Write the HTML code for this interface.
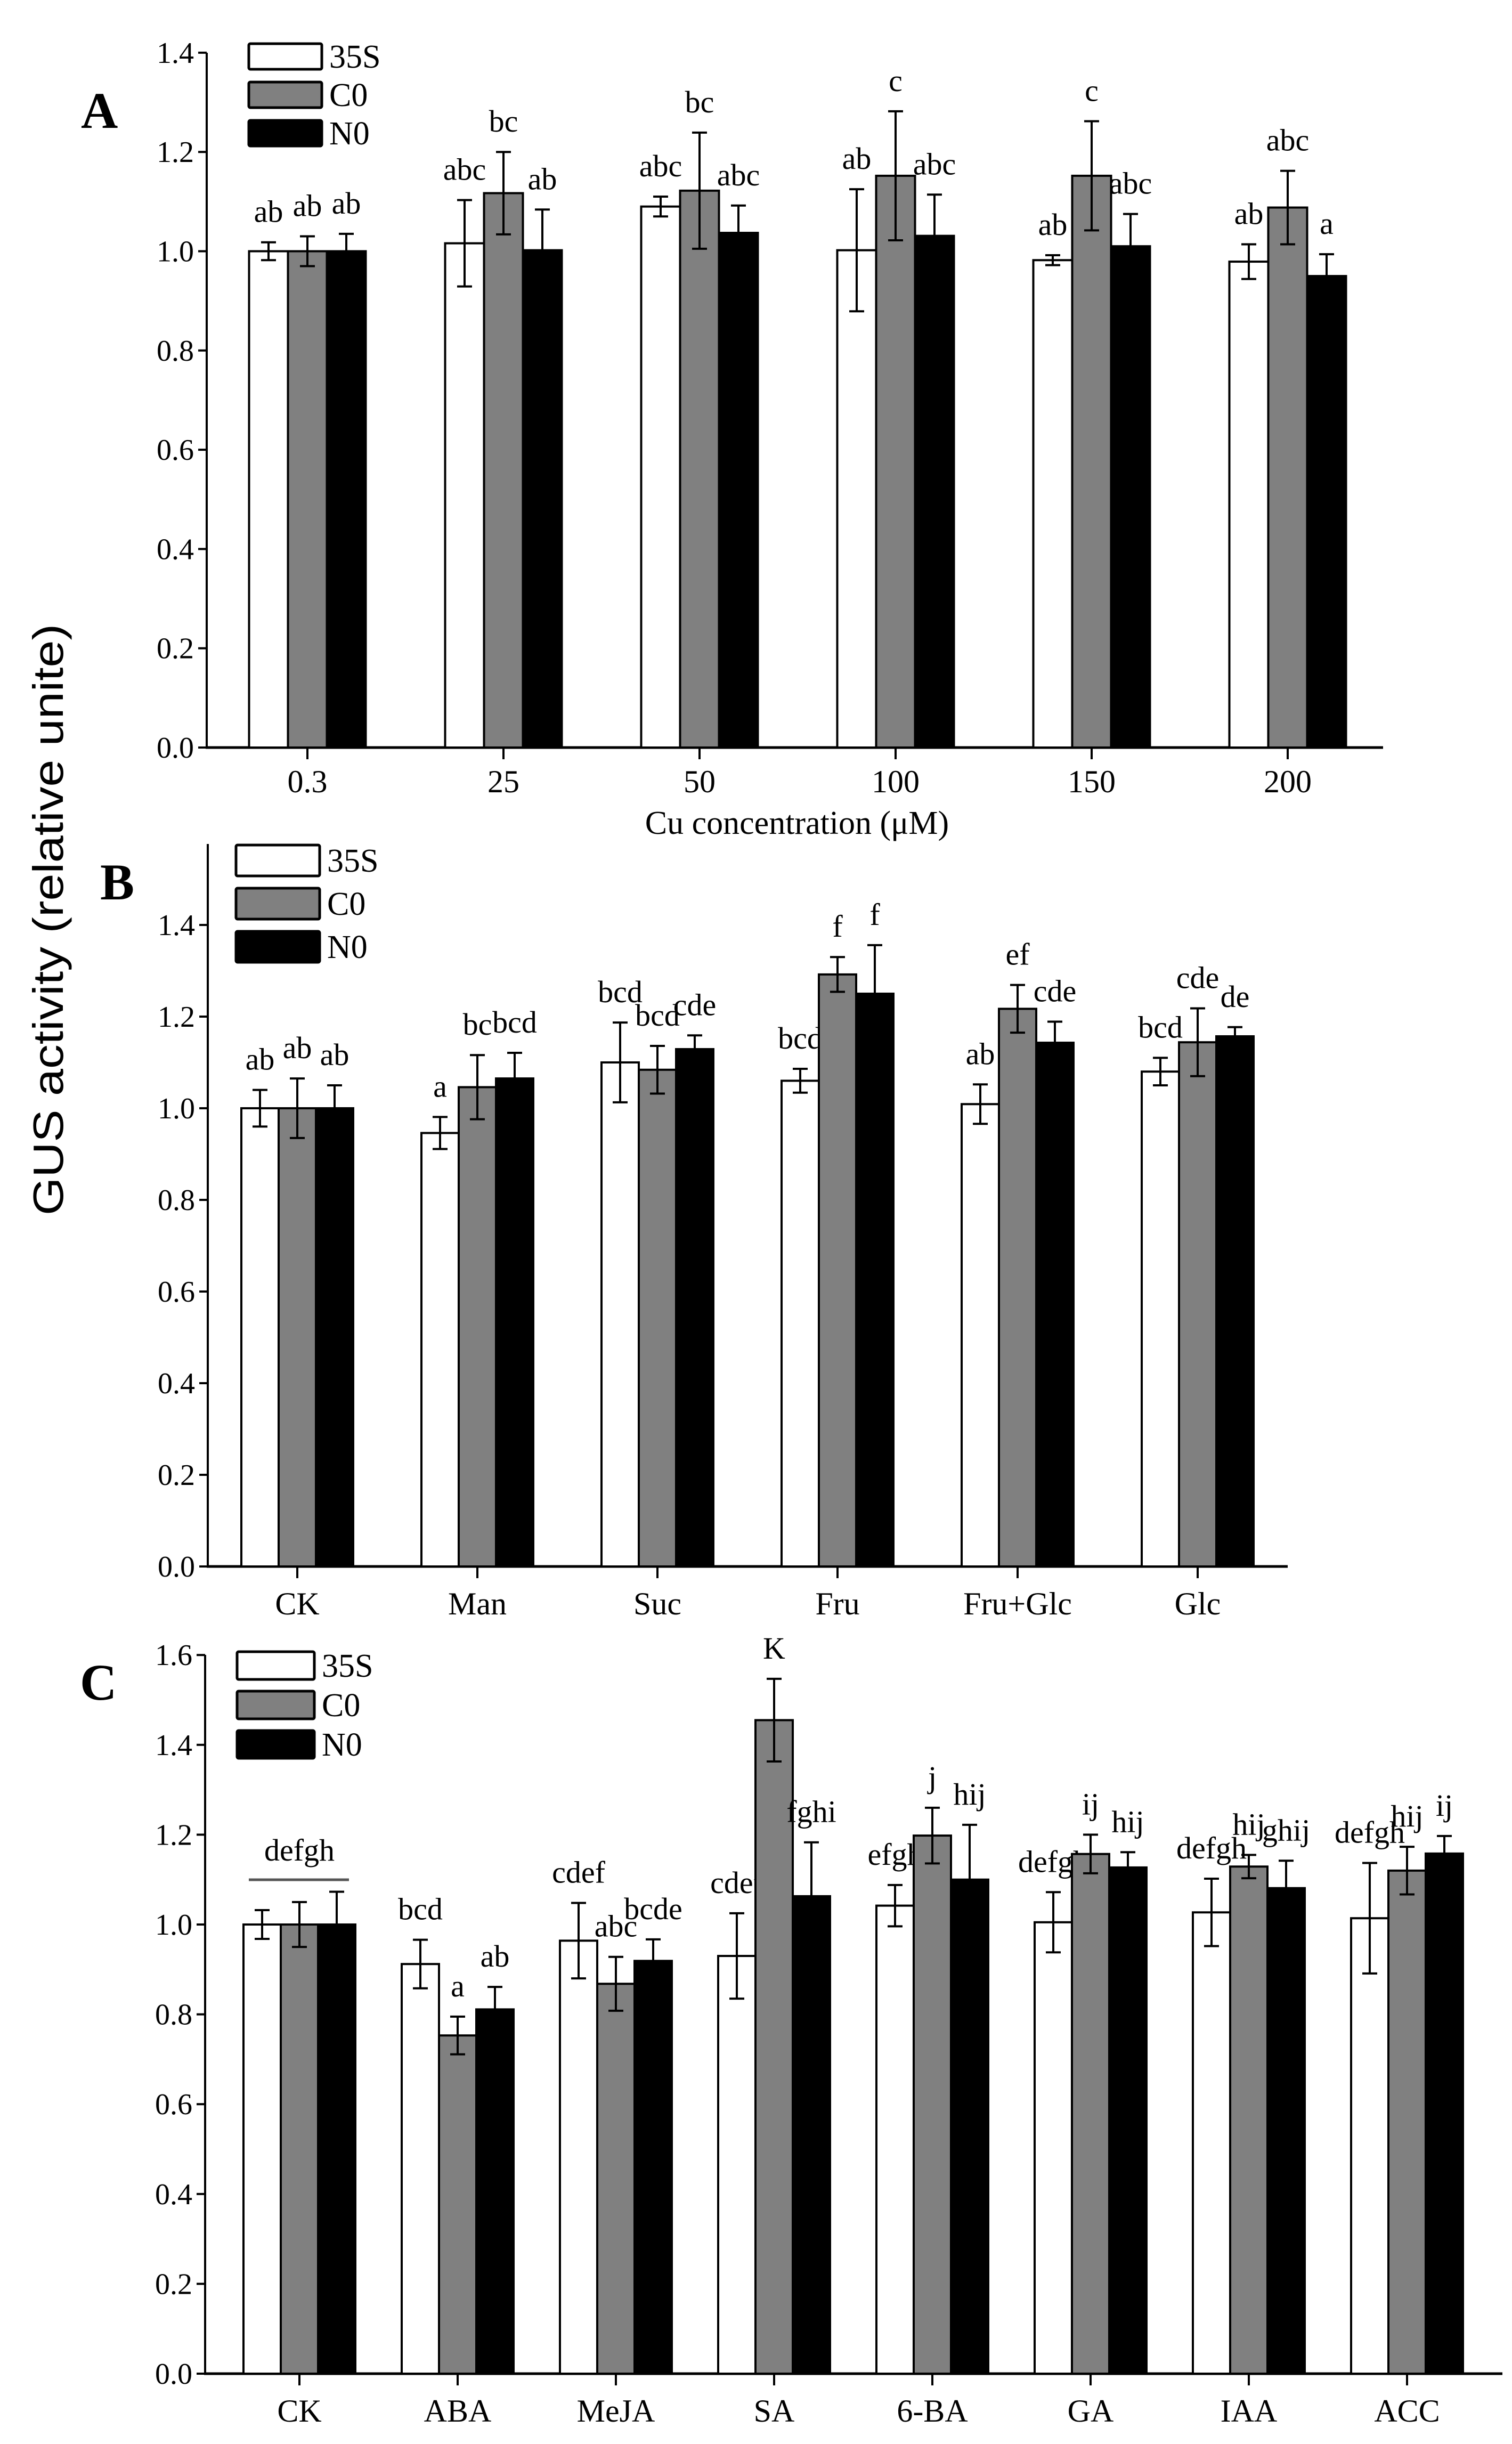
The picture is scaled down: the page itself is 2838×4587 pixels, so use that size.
<!DOCTYPE html>
<html><head><meta charset="utf-8"><style>
html,body{margin:0;padding:0;background:#fff;}
svg{display:block;}
text{font-family:"Liberation Serif",serif;fill:#000;}
</style></head><body>
<svg id="chart" width="2838" height="4587" viewBox="0 0 2838 4587" xmlns="http://www.w3.org/2000/svg">
<rect width="2838" height="4587" fill="#fff"/>
<text x="0" y="0" transform="translate(118,1726) rotate(-90)" text-anchor="middle" font-size="80" textLength="1110" lengthAdjust="spacingAndGlyphs" style="font-family:'Liberation Sans',sans-serif">GUS activity (relative unite)</text>
</svg>
<script>
// ---------- Panel A data ----------
const catsA = ["0.3","25","50","100","150","200"];
const s35A = [1.0,1.016,1.09,1.002,0.982,0.979];
const c0A  = [1.0,1.117,1.122,1.152,1.152,1.088];
const n0A  = [1.0,1.002,1.037,1.031,1.01,0.95];
const e35A = [0.018,0.087,0.02,0.123,0.01,0.035];
const ec0A = [0.03,0.083,0.117,0.13,0.11,0.074];
const en0A = [0.035,0.082,0.055,0.083,0.065,0.044];
const lab35A = ["ab","abc","abc","ab","ab","ab"];
const labc0A = ["ab","bc","bc","c","c","abc"];
const labn0A = ["ab","ab","abc","abc","abc","a"];
const ticksA = ["0.0","0.2","0.4","0.6","0.8","1.0","1.2","1.4"];

// ---------- Panel B data ----------
const catsB = ["CK","Man","Suc","Fru","Fru+Glc","Glc"];
const s35B = [1.0,0.946,1.1,1.06,1.009,1.08];
const c0B  = [1.0,1.046,1.084,1.292,1.217,1.144];
const n0B  = [1.0,1.065,1.129,1.25,1.143,1.157];
const e35B = [0.04,0.035,0.087,0.026,0.043,0.03];
const ec0B = [0.065,0.07,0.052,0.038,0.052,0.074];
const en0B = [0.05,0.056,0.03,0.106,0.046,0.02];
const lab35B = ["ab","a","bcd","bcd","ab","bcd"];
const labc0B = ["ab","bc","bcd","f","ef","cde"];
const labn0B = ["ab","bcd","cde","f","cde","de"];
const ticksB = ["0.0","0.2","0.4","0.6","0.8","1.0","1.2","1.4"];

// ---------- Panel C data ----------
const catsC = ["CK","ABA","MeJA","SA","6-BA","GA","IAA","ACC"];
const s35C = [1.0,0.912,0.964,0.93,1.042,1.005,1.027,1.014];
const c0C  = [1.0,0.753,0.868,1.455,1.198,1.157,1.129,1.12];
const n0C  = [1.0,0.811,0.919,1.063,1.1,1.127,1.081,1.158];
const e35C = [0.032,0.054,0.084,0.095,0.046,0.067,0.075,0.123];
const ec0C = [0.05,0.042,0.06,0.092,0.062,0.043,0.026,0.053];
const en0C = [0.073,0.05,0.048,0.12,0.122,0.034,0.061,0.039];
const lab35C = ["","bcd","cdef","cdef","efgh","defgh","defgh","defgh"];
const labc0C = ["","a","abc","K","j","ij","hij","hij"];
const labn0C = ["","ab","bcde","fghi","hij","hij","ghij","ij"];
const ckGroupLabelC = "defgh";
const ticksC = ["0.0","0.2","0.4","0.6","0.8","1.0","1.2","1.4","1.6"];

const NS = "http://www.w3.org/2000/svg";
const svg = document.getElementById('chart');
function mk(tag, attrs, parent){
  const el = document.createElementNS(NS, tag);
  for (const k in attrs) el.setAttribute(k, attrs[k]);
  (parent||svg).appendChild(el);
  return el;
}

function panel(p){
  const g = mk('g', {});
  
  
  const y = v => p.y0 - v / p.step * p.stepPx;
  const x = i => p.xFirst + i * p.xSpace;
  const ya = mk('line', {x1:p.ax, y1:p.y0+2, x2:p.ax, y2:p.yTop, stroke:'#000','stroke-width':4}, g);
  
  
  const xa = mk('line', {x1:p.ax-2, y1:p.y0, x2:p.xEnd, y2:p.y0, stroke:'#000','stroke-width':5}, g);
  
  
  p.ticks.forEach((t,i)=>{
    const v = i * p.step;
    mk('line', {x1:p.ax-16, y1:y(v), x2:p.ax, y2:y(v), stroke:'#000','stroke-width':4}, g);
    const tl = mk('text', {x:p.ax-24, y:y(v)+19, 'text-anchor':'end','font-size':56}, g);
    
    
    tl.textContent = t;
  });
  const series = [
    {vals:p.s35, errs:p.e35, labs:p.l35, fill:'#fff', name:'35s'},
    {vals:p.c0, errs:p.ec0, labs:p.lc0, fill:'#808080', name:'c0'},
    {vals:p.n0, errs:p.en0, labs:p.ln0, fill:'#000', name:'n0'}
  ];
  p.cats.forEach((c,i)=>{
    const cx = x(i);
    mk('line', {x1:cx, y1:p.y0, x2:cx, y2:p.y0+22, stroke:'#000','stroke-width':4}, g);
    const cl = mk('text', {x:cx, y:p.labY, 'text-anchor':'middle','font-size':60}, g);
    
    
    cl.textContent = c;
    series.forEach((s,k)=>{
      const bx = cx + (k-1)*p.bw - p.bw/2;
      const v = s.vals[i], e = s.errs[i];
      const r = mk('rect', {x:bx, y:y(v), width:p.bw, height:p.y0-y(v), fill:s.fill, stroke:'#000','stroke-width':4}, g);
      
      
      const mx = bx + p.bw/2;
      const eb = mk('path', {d:`M${mx-14},${y(v+e)}H${mx+14}M${mx},${y(v+e)}V${y(v-e)}M${mx-14},${y(v-e)}H${mx+14}`, stroke:'#000','stroke-width':4, fill:'none'}, g);
      
      
      if (s.labs[i]) {
        const lt = mk('text', {x:mx, y:y(v+e)-38, 'text-anchor':'middle','font-size':58}, g);
        
        
        lt.textContent = s.labs[i];
      }
    });
  });
  const names = ['35S','C0','N0'], fills = ['#fff','#808080','#000'];
  names.forEach((n,k)=>{
    const ly = p.legY + k*p.legGap;
    const lr = mk('rect', {x:p.legX, y:ly, width:p.legW, height:p.legH, fill:fills[k], stroke:'#000','stroke-width':5, rx:3}, g);
    
    
    const lt = mk('text', {x:p.legX+p.legW+14, y:ly+p.legH/2+21, 'font-size':62}, g);
    
    
    lt.textContent = n;
  });
  const pl = mk('text', {x:p.plX, y:p.plY, 'font-size':96, 'font-weight':'bold'}, g);
  
  
  pl.textContent = p.id;
  return {g, x, y};
}

panel({id:'A', cats:catsA, s35:s35A, c0:c0A, n0:n0A, e35:e35A, ec0:ec0A, en0:en0A, l35:lab35A, lc0:labc0A, ln0:labn0A, ticks:ticksA,
  y0:1403, step:0.2, stepPx:186.3, yTop:99, ax:388, xEnd:2596, xFirst:577, xSpace:368, bw:73, labY:1487,
  legX:467, legY:82, legGap:72, legW:137, legH:48, plX:152, plY:240});
const xt = mk('text', {x:1496, y:1565, 'text-anchor':'middle','font-size':62});


xt.textContent = 'Cu concentration (\u03bcM)';

panel({id:'B', cats:catsB, s35:s35B, c0:c0B, n0:n0B, e35:e35B, ec0:ec0B, en0:en0B, l35:lab35B, lc0:labc0B, ln0:labn0B, ticks:ticksB,
  y0:2940, step:0.2, stepPx:172, yTop:1584, ax:390, xEnd:2417, xFirst:558, xSpace:338, bw:70, labY:3030,
  legX:443, legY:1586, legGap:81, legW:157, legH:58, plX:188, plY:1688});

const pc = panel({id:'C', cats:catsC, s35:s35C, c0:c0C, n0:n0C, e35:e35C, ec0:ec0C, en0:en0C, l35:lab35C, lc0:labc0C, ln0:labn0C, ticks:ticksC,
  y0:4455, step:0.2, stepPx:168.6, yTop:3106, ax:385, xEnd:2820, xFirst:562, xSpace:297, bw:70, labY:4545,
  legX:445, legY:3100, legGap:74, legW:145, legH:52, plX:150, plY:3190});
const gl = mk('line', {x1:467, y1:3528, x2:655, y2:3528, stroke:'#555','stroke-width':5});


const ckl = mk('text', {x:pc.x(0), y:3492, 'text-anchor':'middle','font-size':58});


ckl.textContent = ckGroupLabelC;
</script>
</body></html>
